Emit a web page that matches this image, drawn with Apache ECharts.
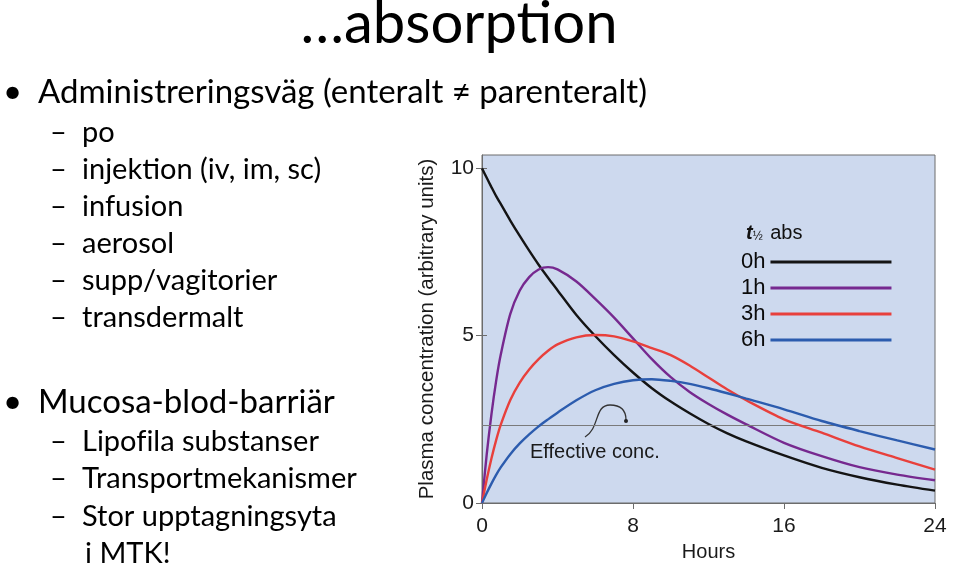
<!DOCTYPE html>
<html><head><meta charset="utf-8">
<script src="https://cdn.jsdelivr.net/npm/echarts@6/dist/echarts.min.js"></script>
<style>html,body{margin:0;padding:0;background:#fff}#c{width:959px;height:575px}</style>
</head><body><div id="c"></div>
<script>
// ---- data ----
const hours = [0,0.25,0.5,0.75,1,1.5,2,2.5,3,3.5,4,5,6,7,8,9,10,11,12,13,14,16,18,20,22,24];
const conc0h = [10,9.72,9.44,9.17,8.93,8.44,7.98,7.54,7.12,6.73,6.36,5.62,4.99,4.42,3.9,3.43,3.03,2.68,2.36,2.08,1.84,1.42,1.05,0.77,0.55,0.37];
const conc1h = [0,1.45,2.65,3.65,4.45,5.65,6.35,6.75,6.98,7.05,6.98,6.62,6.1,5.54,4.92,4.3,3.76,3.32,2.96,2.64,2.35,1.8,1.4,1.07,0.85,0.68];
const conc3h = [0,0.7,1.33,1.88,2.35,3.08,3.6,3.99,4.3,4.55,4.74,4.95,5.02,4.98,4.83,4.63,4.42,4.11,3.75,3.39,3.07,2.5,2.1,1.69,1.34,1.0];
const conc6h = [0,0.3,0.58,0.84,1.07,1.46,1.78,2.05,2.29,2.5,2.7,3.07,3.37,3.56,3.67,3.7,3.65,3.56,3.43,3.28,3.12,2.8,2.45,2.15,1.87,1.6];
const seriesNames = ['0h','1h','3h','6h'];
const xTicks = [0,8,16,24];
const yTicks = [0,5,10];
const effectiveConc = 2.33;

const titleText = '…absorp\u200Ction';
const bulletItems = [['Administreringsväg (enteralt ≠ parenteralt)',103],['Mucosa-blod-barriär',413]];
const subItems = [['po',142],['injek\u200Ction (iv, im, sc)',179],['infusion',216],['aerosol',253],['supp/vagitorier',290],['transdermalt',327],
                  ['Lipof\u200Cila substanser',451],['Transportmekanismer',488],['Stor upptagningsyta',526]];
const continuation = ['i MTK!',563];

// ---- styles ----
const colors = ['#141414','#76298f','#e8403c','#2c5cae'];
const slideFont = 'Lato, "Open Sans", sans-serif';
const chartFont = '"Liberation Sans", Arial, sans-serif';
const mainFs = 33, subFs = 29, titleFs = 58;

const chart = echarts.init(document.getElementById('c'));
const allConc = [conc0h, conc1h, conc3h, conc6h];

function txt(x, baseline, text, fs) {
  return {type:'text', x:x, y:baseline - 0.32*fs, silent:true,
    style:{text:text, font: fs+'px '+slideFont, fill:'#000', textAlign:'left', textVerticalAlign:'middle'}};
}
const graphics = [];
graphics.push({type:'text', x:459, y:43-0.32*titleFs, silent:true, style:{text:titleText, font:titleFs+'px '+slideFont, fill:'#000', textAlign:'center', textVerticalAlign:'middle'}});
bulletItems.forEach(b => { graphics.push(txt(3, b[1], '•', mainFs)); graphics.push(txt(38, b[1], b[0], mainFs)); });
subItems.forEach(s => { graphics.push(txt(50, s[1], '–', subFs)); graphics.push(txt(82, s[1], s[0], subFs)); });
graphics.push(txt(85, continuation[1], continuation[0], subFs));
// legend title
graphics.push({type:'text', x:746, y:233, silent:true, style:{text:'{i|t}{s|½} abs', textVerticalAlign:'middle', textAlign:'left',
  rich:{i:{fontStyle:'italic', fontWeight:'bold', fontSize:20, fontFamily:chartFont, fill:'#111'}, s:{fontSize:12, fontFamily:chartFont, fill:'#111', padding:[8,2,0,0]}},
  font:'20px '+chartFont, fill:'#111'}});
// annotation
graphics.push(
  {type:'text', x:530, y:452, silent:true, style:{text:'Effective conc.', font:'20px '+chartFont, fill:'#1a1a1a', textAlign:'left', textVerticalAlign:'middle'}},
  {type:'bezierCurve', silent:true, shape:{x1:585, y1:437, x2:610, y2:405, cpx1:600, cpy1:428, cpx2:594, cpy2:405}, style:{stroke:'#333', lineWidth:1.3, fill:null}},
  {type:'bezierCurve', silent:true, shape:{x1:610, y1:405, x2:626, y2:420, cpx1:622, cpy1:405, cpx2:626, cpy2:412}, style:{stroke:'#333', lineWidth:1.3, fill:null}},
  {type:'circle', silent:true, shape:{cx:626, cy:421, r:2}, style:{fill:'#222'}}
);

chart.setOption({
  animation:false,
  backgroundColor:'#fff',
  textStyle:{fontFamily:chartFont},
  grid:{left:482, right:24, top:155, bottom:72, show:true, backgroundColor:'#cdd9ee', borderColor:'#6c6c6c', borderWidth:1},
  legend:{data:seriesNames, orient:'vertical', left:741, top:251, align:'right', icon:'rect', itemWidth:121, itemHeight:3, itemGap:4, padding:0,
    textStyle:{fontSize:22, color:'#0a0a0a', fontFamily:chartFont}},
  xAxis:[{type:'value', min:0, max:24, interval:8, position:'bottom',
      name:'Hours', nameLocation:'middle', nameGap:39, nameTextStyle:{fontSize:20, color:'#1a1a1a'},
      axisLine:{show:true, onZero:false, lineStyle:{color:'#6c6c6c', width:1}},
      axisTick:{show:true, length:6, lineStyle:{color:'#6c6c6c'}},
      axisLabel:{fontSize:21, color:'#1a1a1a', margin:13, customValues:xTicks},
      splitLine:{show:false}},
    {type:'value', min:0, max:24, position:'top', axisLine:{show:false},
      axisTick:{show:true, inside:true, length:5, customValues:[8], lineStyle:{color:'#6c6c6c'}},
      axisLabel:{show:false}, splitLine:{show:false}}],
  yAxis:[{type:'value', min:0, max:10.4, interval:5,
      name:'Plasma concentration (arbitrary units)', nameLocation:'middle', nameGap:44, nameTextStyle:{fontSize:20.5, color:'#1a1a1a'},
      axisLine:{show:true, lineStyle:{color:'#6c6c6c', width:1}},
      axisTick:{show:true, length:6, customValues:yTicks, lineStyle:{color:'#6c6c6c'}},
      axisLabel:{fontSize:21, color:'#1a1a1a', margin:8, customValues:yTicks},
      splitLine:{show:false}},
    {type:'value', min:0, max:10.4, position:'right', axisLine:{show:false},
      axisTick:{show:true, length:5, customValues:[5,10], lineStyle:{color:'#6c6c6c'}},
      axisLabel:{show:false}, splitLine:{show:false}}],
  graphic:graphics,
  series: seriesNames.map((n,k) => ({
    name:n, type:'line', xAxisIndex:0, yAxisIndex:0, showSymbol:false, smooth:0.3,
    data: hours.map((h,i) => [h, allConc[k][i]]),
    lineStyle:{width:2.4, color:colors[k]}, itemStyle:{color:colors[k]}, z: 3+k,
    markLine: k===0 ? {silent:true, symbol:'none', label:{show:false}, lineStyle:{color:'#7a7a7a', width:1.2, type:'solid'},
      data:[{yAxis:effectiveConc}]} : undefined
  }))
});
</script></body></html>
